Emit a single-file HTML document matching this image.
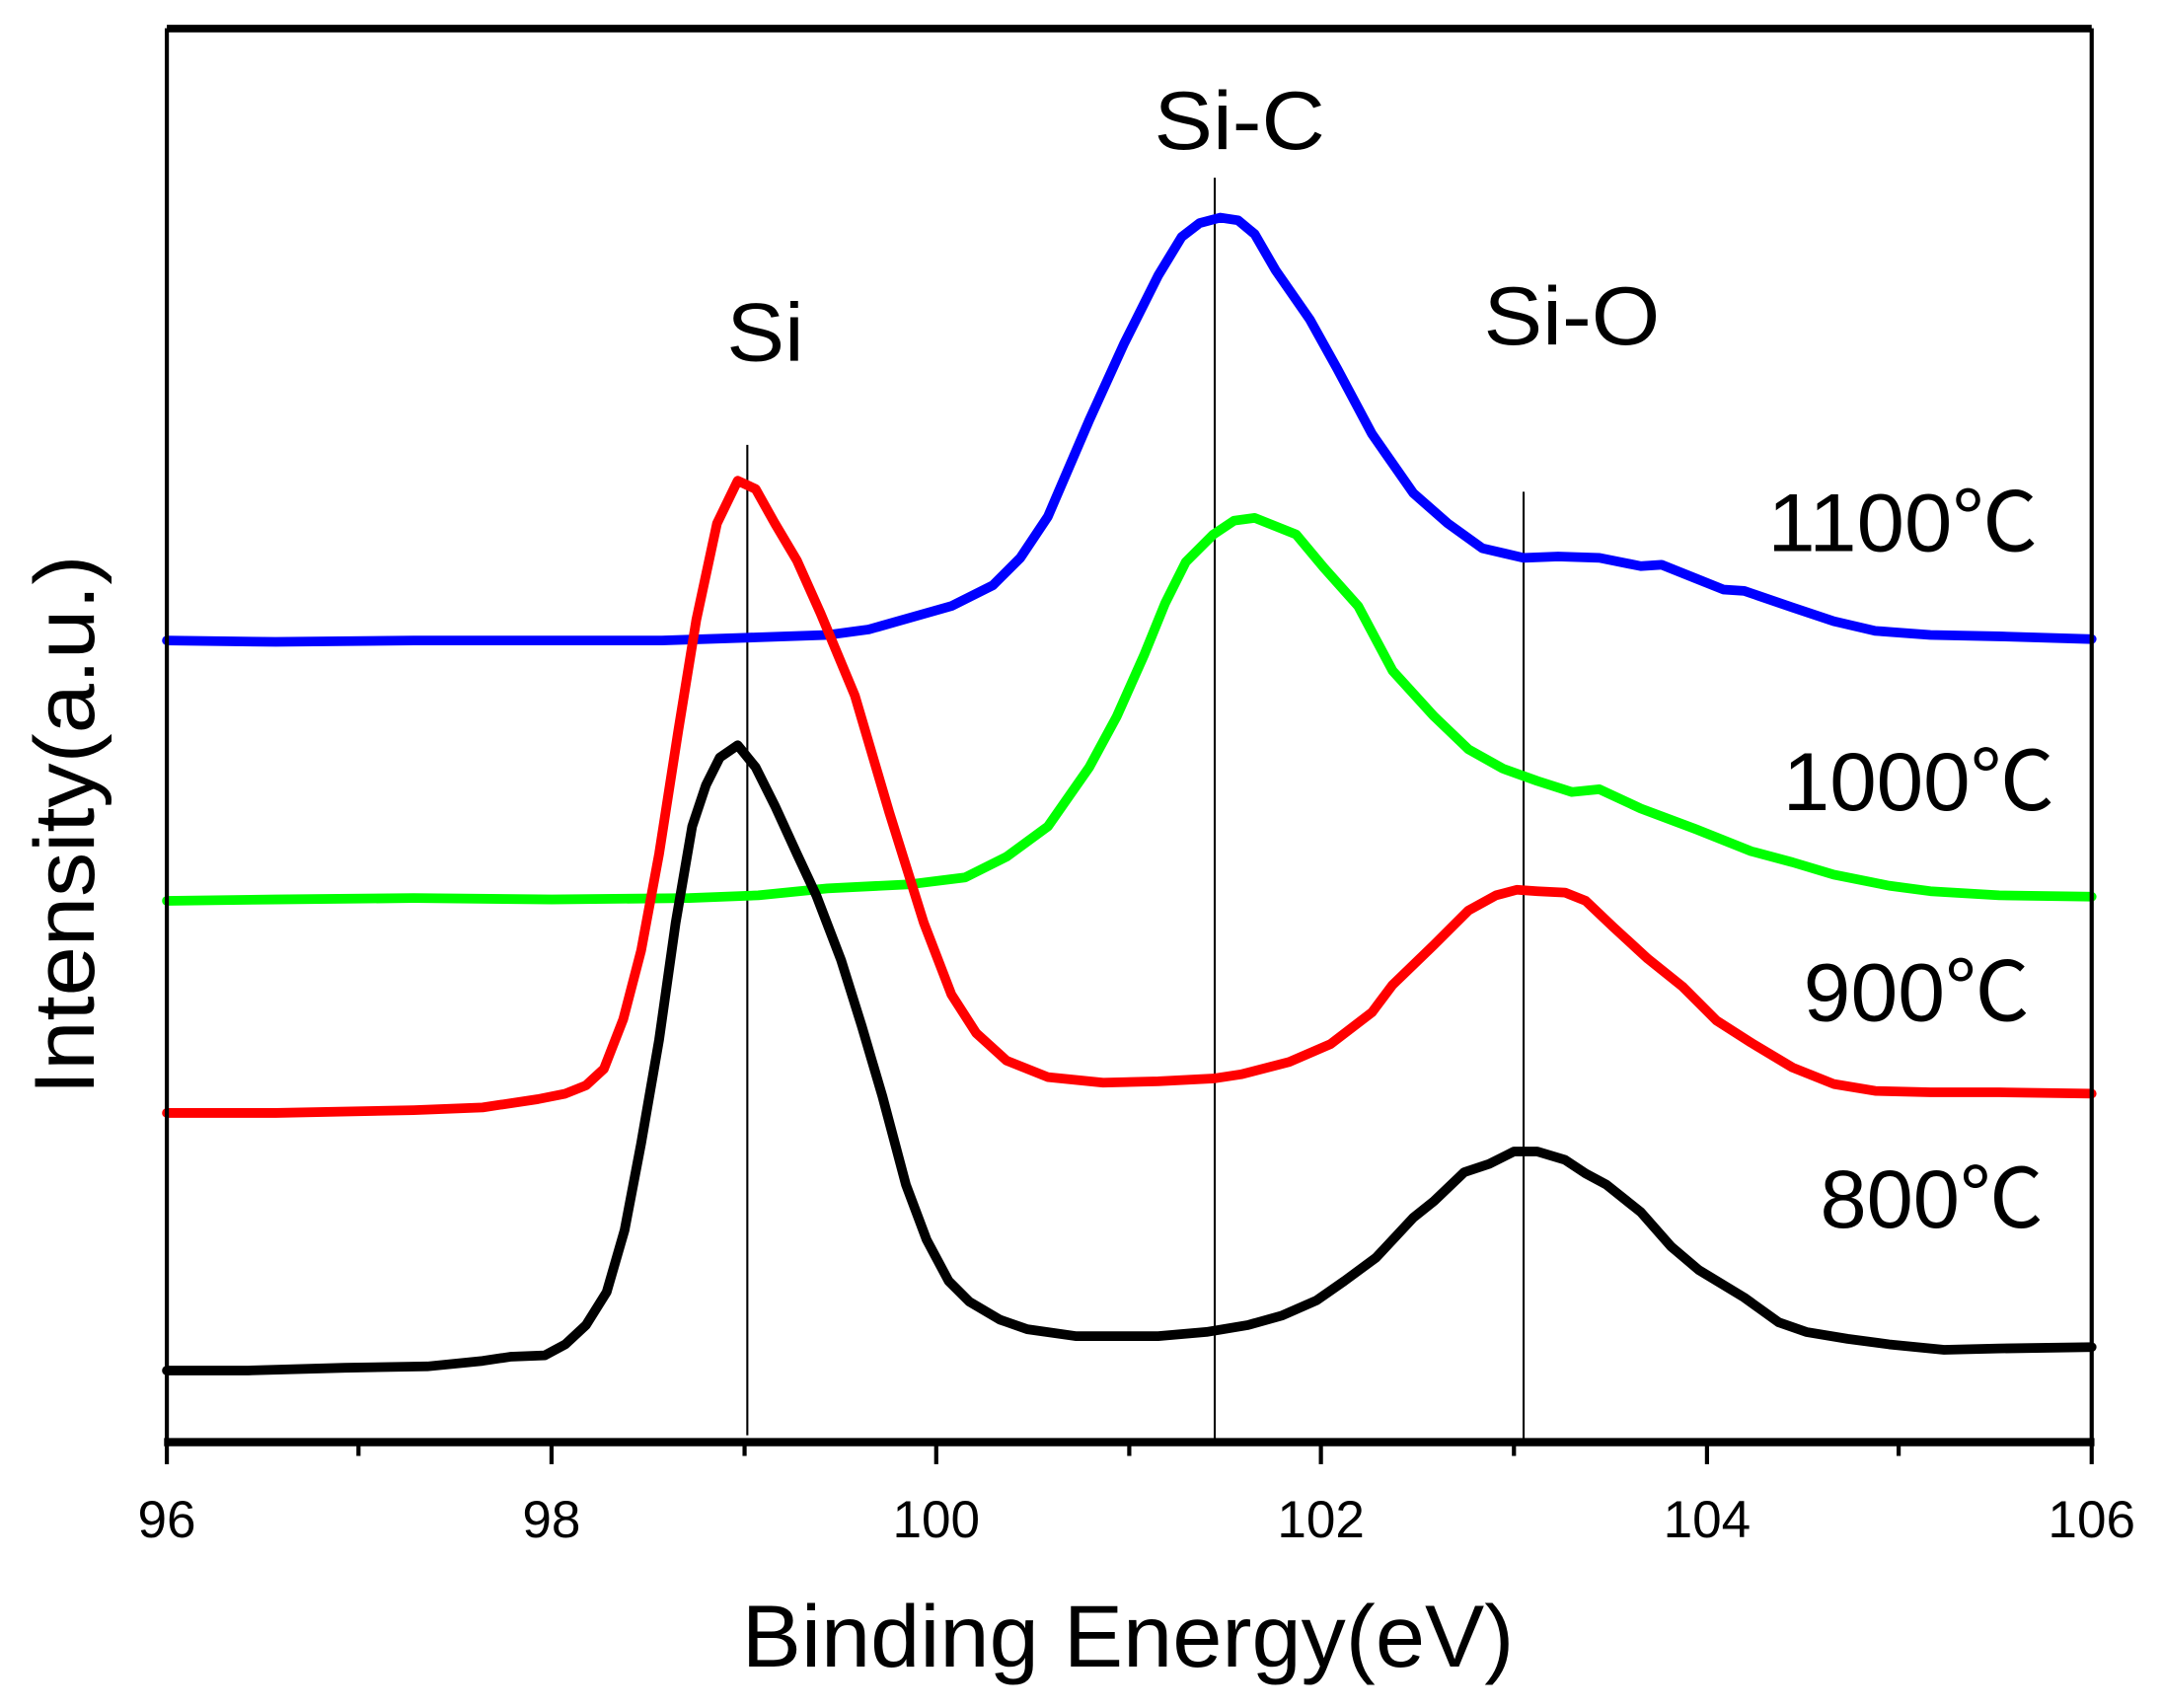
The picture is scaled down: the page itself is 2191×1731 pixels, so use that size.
<!DOCTYPE html>
<html><head><meta charset="utf-8"><style>
html,body{margin:0;padding:0;background:#fff;}
svg{display:block;}
text{font-family:"Liberation Sans","Noto Sans CJK SC",sans-serif;fill:#000;}
</style></head><body>
<svg width="2191" height="1731" viewBox="0 0 1568 1240" preserveAspectRatio="none" xmlns="http://www.w3.org/2000/svg">
<rect width="1568" height="1240" fill="#fff"/>
<g stroke="#000" stroke-width="1.5" fill="none">
<line x1="542" y1="323" x2="542" y2="1042"/>
<line x1="881" y1="129" x2="881" y2="1048"/>
<line x1="1105" y1="357" x2="1105" y2="1048"/>
</g>
<g fill="none" stroke-width="7" stroke-linejoin="round" stroke-linecap="round">
<polyline stroke="#0000ff" points="121,465 200,466 300,465 400,465 480,465 540,463 600,461 630,457 690,440 720,425 740,405 760,375 790,305 815,250 840,200 857,172 870,162 885,158 898,160 910,170 925,196 950,232 970,268 995,315 1025,358 1050,380 1075,398 1105,405 1130,404 1160,405 1190,411 1205,410 1230,420 1250,428 1265,429 1300,441 1330,451 1360,458 1400,461 1450,462 1517,464"/>
<polyline stroke="#00ff00" points="121,654 200,653 300,652 400,653 500,652 550,650 600,645 660,642 700,637 730,622 760,600 790,557 810,520 830,475 845,438 860,408 880,388 895,378 910,376 940,388 960,412 985,440 1010,487 1040,520 1065,544 1090,558 1115,567 1140,575 1160,573 1190,587 1230,602 1270,618 1300,626 1330,635 1370,643 1400,647 1450,650 1517,651"/>
<polyline stroke="#ff0000" points="121,808 200,808 300,806 350,804 390,798 410,794 425,788 438,776 452,740 465,690 478,620 492,530 505,450 520,380 535,349 548,355 562,380 578,407 595,445 620,505 645,590 670,670 690,722 708,750 730,770 760,782 800,786 840,785 880,783 900,780 935,771 965,758 995,735 1010,715 1040,686 1065,661 1085,650 1100,646 1115,647 1135,648 1150,654 1170,673 1195,696 1220,716 1245,741 1270,757 1300,775 1330,787 1360,792 1400,793 1450,793 1517,794"/>
<polyline stroke="#000000" points="121,995 180,995 250,993 310,992 350,988 370,985 395,984 410,976 425,962 440,938 453,893 465,830 478,755 490,670 502,600 512,570 522,550 535,541 548,557 562,585 578,620 592,650 610,697 625,745 640,796 657,860 672,900 688,930 703,945 725,958 745,965 780,970 840,970 875,967 905,962 930,955 955,944 975,930 998,913 1012,898 1025,884 1040,872 1062,851 1080,845 1098,836 1115,836 1135,842 1150,852 1165,860 1190,880 1212,905 1232,922 1265,942 1290,960 1310,967 1340,972 1370,976 1410,980 1450,979 1517,978"/>
</g>
<rect x="121" y="22" width="1396" height="1026" fill="none" stroke="#000" stroke-width="3"/>
<line x1="119" y1="1047" x2="1519" y2="1047" stroke="#000" stroke-width="6"/>
<line x1="121" y1="20" x2="1517" y2="20" stroke="#000" stroke-width="4"/>
<g stroke="#000" stroke-width="3">
<line x1="121" y1="1048" x2="121" y2="1063"/>
<line x1="400" y1="1048" x2="400" y2="1063"/>
<line x1="679" y1="1048" x2="679" y2="1063"/>
<line x1="958" y1="1048" x2="958" y2="1063"/>
<line x1="1238" y1="1048" x2="1238" y2="1063"/>
<line x1="1517" y1="1048" x2="1517" y2="1063"/>
<line x1="260" y1="1048" x2="260" y2="1057"/>
<line x1="540" y1="1048" x2="540" y2="1057"/>
<line x1="819" y1="1048" x2="819" y2="1057"/>
<line x1="1098" y1="1048" x2="1098" y2="1057"/>
<line x1="1377" y1="1048" x2="1377" y2="1057"/>
</g>
<g font-size="38" text-anchor="middle">
<text x="121" y="1116">96</text>
<text x="400" y="1116">98</text>
<text x="679" y="1116">100</text>
<text x="958" y="1116">102</text>
<text x="1238" y="1116">104</text>
<text x="1517" y="1116">106</text>
</g>
<text x="538" y="1210" font-size="64" textLength="560" lengthAdjust="spacingAndGlyphs">Binding Energy(eV)</text>
<text transform="translate(68,795) rotate(-90)" font-size="62" textLength="392" lengthAdjust="spacingAndGlyphs">Intensity(a.u.)</text>
<g font-size="60">
<text x="527" y="262" textLength="56" lengthAdjust="spacingAndGlyphs">Si</text>
<text x="837" y="108" textLength="124" lengthAdjust="spacingAndGlyphs">Si-C</text>
<text x="1076" y="250" textLength="128" lengthAdjust="spacingAndGlyphs">Si-O</text>
<text x="1282" y="400" textLength="196" lengthAdjust="spacingAndGlyphs">1100℃</text>
<text x="1293" y="588" textLength="197" lengthAdjust="spacingAndGlyphs">1000℃</text>
<text x="1308" y="741" textLength="164" lengthAdjust="spacingAndGlyphs">900℃</text>
<text x="1320" y="891" textLength="162" lengthAdjust="spacingAndGlyphs">800℃</text>
</g>
</svg>
</body></html>
